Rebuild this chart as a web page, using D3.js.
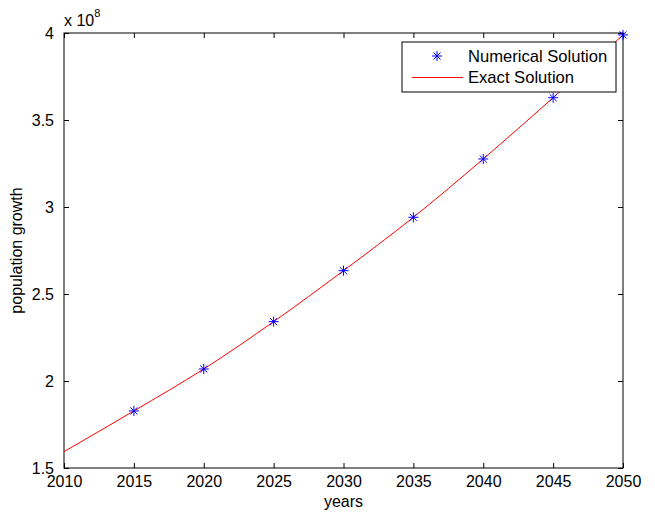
<!DOCTYPE html>
<html lang="en">
<head>
<meta charset="UTF-8">
<title>population growth</title>
<style>
  body { margin: 0; background: #fff; }
  svg { display: block; font-family: "Liberation Sans", Arial, sans-serif; }
  .axis path { display: none; }
  .axis line { stroke: #000; }
  .axis text { font-size: 16px; fill: #000; }
</style>
<script src="https://cdn.jsdelivr.net/npm/d3@7"></script>
</head>
<body>
<div class="vizHolder"></div>
<script>
// values in units of 1e8
var years = [2010, 2015, 2020, 2025, 2030, 2035, 2040, 2045, 2050];
var exactValues = [1.594, 1.828, 2.069, 2.341, 2.634, 2.941, 3.276, 3.628, 3.989];
var numYears = [2015, 2020, 2025, 2030, 2035, 2040, 2045, 2050];
var numValues = [1.828, 2.069, 2.341, 2.634, 2.941, 3.276, 3.628, 3.989];
var xTicks = [2010, 2015, 2020, 2025, 2030, 2035, 2040, 2045, 2050];
var yTicks = [1.5, 2, 2.5, 3, 3.5, 4];

var W = 655, H = 516;
var plotL = 64, plotR = 623, plotT = 33, plotB = 468;

var svg = d3.select(".vizHolder").append("svg")
  .attr("width", W).attr("height", H);

var x = d3.scaleLinear().domain([2010, 2050]).range([plotL, plotR]);
var y = d3.scaleLinear().domain([1.5, 4]).range([plotB, plotT]);

// ticks (inward on all four sides, like matlab)
var tl = 5;
svg.append("g").attr("class", "axis")
  .attr("transform", "translate(0," + plotB + ")")
  .call(d3.axisBottom(x).tickValues(xTicks).tickFormat(d3.format("d")).tickSizeInner(-tl).tickSizeOuter(0).tickPadding(tl + 10))
  .selectAll("text").attr("dy", "0.25em");
svg.append("g").attr("class", "axis")
  .attr("transform", "translate(0," + plotT + ")")
  .call(d3.axisTop(x).tickValues(xTicks).tickSizeInner(-tl).tickSizeOuter(0).tickFormat(""));
svg.append("g").attr("class", "axis")
  .attr("transform", "translate(" + plotL + ",0)")
  .call(d3.axisLeft(y).tickValues(yTicks).tickFormat(d3.format("")).tickSizeInner(-tl).tickSizeOuter(0).tickPadding(tl + 5));
svg.append("g").attr("class", "axis")
  .attr("transform", "translate(" + plotR + ",0)")
  .call(d3.axisRight(y).tickValues(yTicks).tickSizeInner(-tl).tickSizeOuter(0).tickFormat(""));

// box
svg.append("rect")
  .attr("x", plotL).attr("y", plotT)
  .attr("width", plotR - plotL).attr("height", plotB - plotT)
  .attr("fill", "none").attr("stroke", "#000").attr("stroke-width", 1);

// exponent label
var ex = svg.append("text").attr("x", 64).attr("y", 26)
  .style("font-size", "16px");
ex.append("tspan").text("x 10");
ex.append("tspan").attr("dy", -9).style("font-size", "11px").text("8");

// axis titles
svg.append("text").attr("x", (plotL + plotR) / 2).attr("y", 507)
  .attr("text-anchor", "middle").style("font-size", "16px").text("years");
svg.append("text")
  .attr("transform", "translate(22," + ((plotT + plotB) / 2) + ") rotate(-90)")
  .attr("text-anchor", "middle").style("font-size", "16px").text("population growth");

// exact solution line
var line = d3.line()
  .x(function (d, i) { return x(years[i]); })
  .y(function (d) { return y(d); })
  .curve(d3.curveMonotoneX);
svg.append("path").datum(exactValues)
  .attr("d", line)
  .attr("fill", "none").attr("stroke", "#ff0000").attr("stroke-width", 1);

// asterisk marker
function star(g, r) {
  var d = r * 0.7071;
  g.append("line").attr("x1", -r).attr("x2", r).attr("y1", 0).attr("y2", 0);
  g.append("line").attr("x1", 0).attr("x2", 0).attr("y1", -r).attr("y2", r);
  g.append("line").attr("x1", -d).attr("x2", d).attr("y1", -d).attr("y2", d);
  g.append("line").attr("x1", -d).attr("x2", d).attr("y1", d).attr("y2", -d);
}

svg.selectAll(".dot").data(numValues).enter().append("g")
  .attr("class", "dot")
  .attr("transform", function (d, i) { return "translate(" + x(numYears[i]) + "," + y(d) + ")"; })
  .attr("stroke", "#0000ff").attr("stroke-width", 1)
  .each(function () { star(d3.select(this), 5); });

// legend
var lg = svg.append("g");
lg.append("rect").attr("x", 402).attr("y", 42).attr("width", 214).attr("height", 50)
  .attr("fill", "#fff").attr("stroke", "#000").attr("stroke-width", 1);
var lm = lg.append("g").attr("transform", "translate(437,56)")
  .attr("stroke", "#0000ff").attr("stroke-width", 1);
star(lm, 5);
lg.append("line").attr("x1", 412).attr("x2", 463).attr("y1", 77.5).attr("y2", 77.5)
  .attr("stroke", "#ff0000").attr("stroke-width", 1);
lg.append("text").attr("x", 468).attr("y", 62).style("font-size", "16.6px").text("Numerical Solution");
lg.append("text").attr("x", 468).attr("y", 83).style("font-size", "16.6px").text("Exact Solution");
</script>
</body>
</html>
